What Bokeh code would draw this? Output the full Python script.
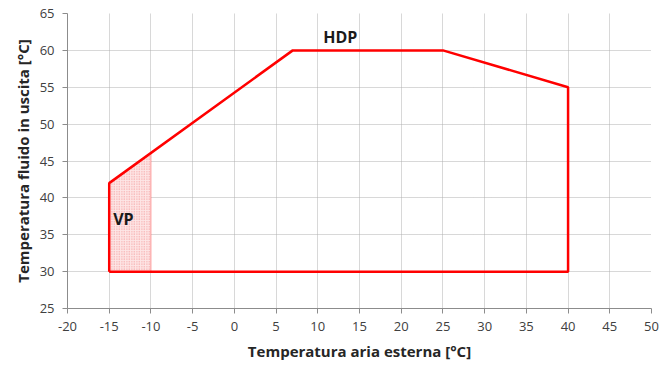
from bokeh.plotting import figure
from bokeh.models import Range1d, FixedTicker, Label
from bokeh.embed import file_html
from bokeh.resources import INLINE

# Envelope of the heat pump (HDP)
env_x = [-15, -15, 7, 25, 40, 40, -15]
env_y = [30, 42, 60, 60, 55, 30, 30]
# VP hatched area
vp_x = [-15, -15, -10, -10]
vp_y = [30, 42, 46.1, 30]

x_ticks = list(range(-20, 55, 5))
y_ticks = list(range(25, 70, 5))

FONT = "Open Sans"

p = figure(width=672, height=365, output_backend="svg", toolbar_location=None,
           x_range=Range1d(-20, 50), y_range=Range1d(25, 65),
           min_border_left=67, min_border_right=21, min_border_top=13, min_border_bottom=57)
p.outline_line_color = None
p.background_fill_color = "white"

for ax in (p.xaxis, p.yaxis):
    ax.axis_line_color = "#8c8c8c"
    ax.major_tick_line_color = "#8c8c8c"
    ax.minor_tick_line_color = None
    ax.major_tick_out = 5
    ax.major_tick_in = 0
    ax.major_label_text_font = FONT
    ax.major_label_text_font_size = "13px"
    ax.major_label_text_color = "#404040"
    ax.axis_label_text_font = FONT
    ax.axis_label_text_font_size = "15px"
    ax.axis_label_text_font_style = "bold"
    ax.axis_label_text_color = "#262626"

p.xaxis.ticker = FixedTicker(ticks=x_ticks)
p.yaxis.ticker = FixedTicker(ticks=y_ticks)
p.xaxis.major_label_overrides = {t: str(t) for t in x_ticks}
p.yaxis.major_label_overrides = {t: str(t) for t in y_ticks}
p.xaxis.axis_label = "Temperatura aria esterna [°C]"
p.yaxis.axis_label = "Temperatura fluido in uscita [°C]"
p.xaxis.major_label_standoff = 8
p.yaxis.major_label_standoff = 8
p.xaxis.axis_label_standoff = 7
p.yaxis.axis_label_standoff = 4

for g in (p.xgrid, p.ygrid):
    g.grid_line_color = "#b0b0b0"
    g.grid_line_dash = "1 1"
    g.grid_line_width = 1

p.patch(vp_x, vp_y, fill_color="#fde6e6", fill_alpha=1.0,
        hatch_pattern=".", hatch_color="#f07070", hatch_scale=2.5, hatch_alpha=0.7,
        line_color="#ff6060", line_width=1, line_alpha=0.6)

p.line(env_x, env_y, line_color="#ff0000", line_width=2.5)

p.add_layout(Label(x=-13.3, y=37.2, text="VP", text_font=FONT, text_font_size="16px",
                   text_font_style="bold", text_color="#1a1a1a",
                   text_align="center", text_baseline="middle"))
p.add_layout(Label(x=12.7, y=61.8, text="HDP", text_font=FONT, text_font_size="16px",
                   text_font_style="bold", text_color="#1a1a1a",
                   text_align="center", text_baseline="middle"))

open("out.html", "w").write(file_html(p, INLINE))
